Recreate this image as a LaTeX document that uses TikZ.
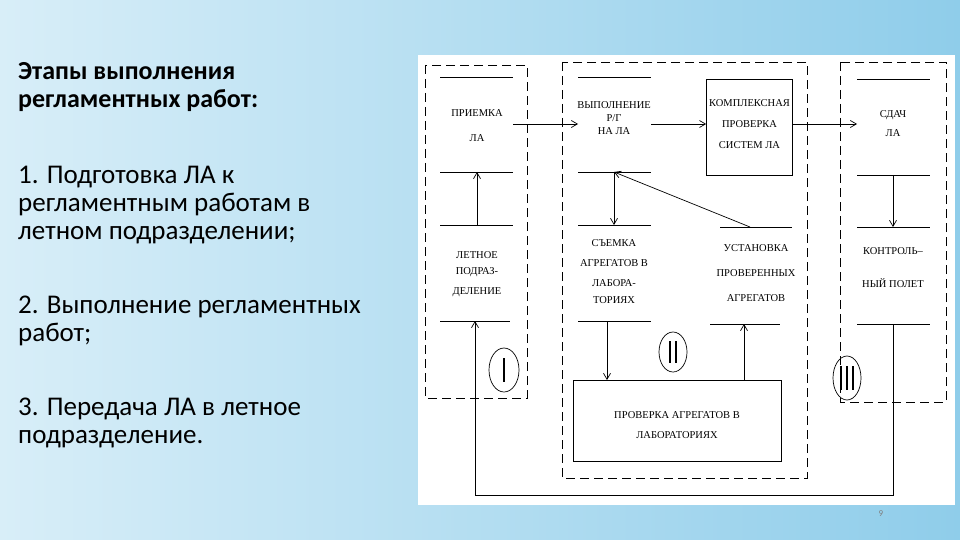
\documentclass[tikz,border=0pt]{standalone}
\usepackage{fontspec}
\setmainfont{Carlito}
\newfontfamily\dfont{Liberation Serif}
\usetikzlibrary{arrows.meta}
\definecolor{bgA}{HTML}{D8EEF8}
\definecolor{bgB}{HTML}{8FCDEA}
\tikzset{
  dl/.style={draw=black, line width=0.7pt, dash pattern=on 9pt off 5pt},
  sl/.style={draw=black, line width=0.7pt},
  ar/.style={sl, -{Straight Barb[length=6pt,width=7pt]}},
  dt/.style={font=\dfont\fontsize{10.5}{12}\selectfont, inner sep=0pt},
  lt/.style={font=\fontsize{27}{30}\selectfont, anchor=base west, inner sep=0pt},
  lb/.style={lt, font=\bfseries\fontsize{26}{30}\selectfont},
}
\begin{document}
\begin{tikzpicture}[x=1pt,y=-1pt]
\useasboundingbox (0,0) rectangle (960,540);
\shade[left color=bgA, right color=bgB] (0,0) rectangle (960,540);
\fill[white] (418,55) rectangle (955,505);
% left text
\node[lb] (t1) at (18,80) {Этапы выполнения};
\node[lb] (t2) at (18,108) {регламентных работ:};
\node[lt] (t3) at (18,183) {1. Подготовка ЛА к};
\node[lt] (t4) at (18,211) {регламентным работам в};
\node[lt] (t5) at (18,239) {летном подразделении;};
\node[lt] (t6) at (18,313) {2. Выполнение регламентных};
\node[lt] (t7) at (18,341) {работ;};
\node[lt] (t8) at (18,415) {3. Передача ЛА в летное};
\node[lt] (t9) at (18,443) {подразделение.};
% dashed groups
\draw[dl] (425,65) rectangle (527,398);
\draw[dl] (562,62) rectangle (807,478);
\draw[dl] (840,62) rectangle (946,402);
% ПРИЕМКА
\draw[sl] (440,77)--(513,77); \draw[sl] (440,172)--(513,172);
\node[dt] (pr1) at (477,113) {ПРИЕМКА};
\node[dt] (pr2) at (477,138) {ЛА};
% ВЫПОЛНЕНИЕ
\draw[sl] (578,77)--(651,77); \draw[sl] (578,172)--(651,172);
\node[dt] (v1) at (614,105) {ВЫПОЛНЕНИЕ};
\node[dt] (v2) at (614,118) {Р/Г};
\node[dt] (v3) at (614,131) {НА ЛА};
% КОМПЛЕКСНАЯ
\node[sl, minimum width=86pt, minimum height=96pt, inner sep=0pt] (k) at (749.5,127) {};
\node[dt] (k1) at (749.5,103) {КОМПЛЕКСНАЯ};
\node[dt] (k2) at (749.5,124) {ПРОВЕРКА};
\node[dt] (k3) at (749.5,145) {СИСТЕМ ЛА};
% СДАЧА
\draw[sl] (857,79)--(930,79); \draw[sl] (857,175)--(930,175);
\node[dt] (s1) at (893,115) {СДАЧ};
\node[dt] (s2) at (893,133) {ЛА};
% КОНТРОЛЬНЫЙ
\draw[sl] (857,227)--(930,227); \draw[sl] (857,324)--(930,324);
\node[dt] (c1) at (893,251) {КОНТРОЛЬ–};
\node[dt] (c2) at (893,283) {НЫЙ ПОЛЕТ};
% ЛЕТНОЕ
\draw[sl] (440,225)--(513,225); \draw[sl] (440,321)--(510,321);
\node[dt] (l1) at (477,255) {ЛЕТНОЕ};
\node[dt] (l2) at (477,272) {ПОДРАЗ-};
\node[dt] (l3) at (477,292) {ДЕЛЕНИЕ};
% СЪЕМКА
\draw[sl] (578,225)--(651,225); \draw[sl] (578,321)--(651,321);
\node[dt] (e1) at (614,243) {СЪЕМКА};
\node[dt] (e2) at (614,263) {АГРЕГАТОВ В};
\node[dt] (e3) at (614,283) {ЛАБОРА-};
\node[dt] (e4) at (614,300) {ТОРИЯХ};
% УСТАНОВКА
\draw[sl] (720,227)--(792,227); \draw[sl] (710,324)--(780,324);
\node[dt] (u1) at (756,248) {УСТАНОВКА};
\node[dt] (u2) at (756,273) {ПРОВЕРЕННЫХ};
\node[dt] (u3) at (756,298) {АГРЕГАТОВ};
% LAB
\node[sl, minimum width=208pt, minimum height=81pt, inner sep=0pt] (lab) at (677,420.5) {};
\node[dt] (lb1) at (677,415) {ПРОВЕРКА АГРЕГАТОВ В};
\node[dt] (lb2) at (677,435) {ЛАБОРАТОРИЯХ};
% arrows
\draw[ar] (513,124)--(578,124);
\draw[ar] (651,124)--(k.west |- 0,124);
\draw[ar] (k.east |- 0,124)--(857,124);
\draw[ar] (893,175)--(893,227);
\draw[ar] (477,225)--(477,172);
\draw[ar] (614,172)--(614,225);
\draw[ar] (750,227)--(614,172);
\draw[ar] (607,321)--(607,380);
\draw[ar] (744,380)--(744,324);
\draw[ar] (893,324)--(893,495)--(475,495)--(475,321);
% circles
\draw[sl] (504,370) ellipse (15 and 22);
\draw[line width=2.5pt] (504,358)--(504,382);
\draw[sl] (673,352) ellipse (14 and 20);
\draw[line width=2pt] (670,341)--(670,363) (676,341)--(676,363);
\draw[sl] (847,378) ellipse (14 and 22);
\draw[line width=1.8pt] (841,366)--(841,390) (847,366)--(847,390) (853,366)--(853,390);
\node[font=\fontsize{9}{10}\selectfont, text=gray] (pg) at (881,514) {9};
\end{tikzpicture}
\end{document}
